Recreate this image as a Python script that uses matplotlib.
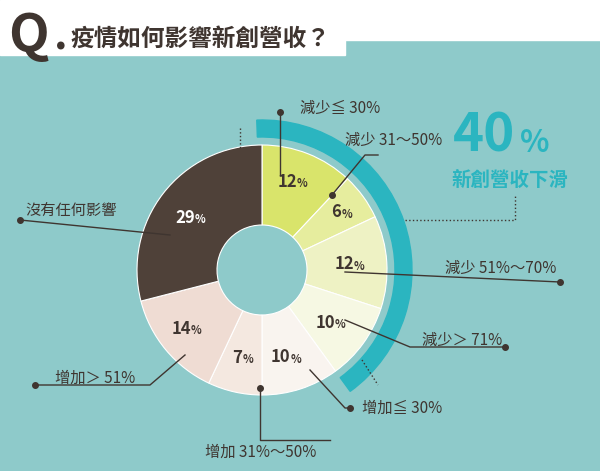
import matplotlib
matplotlib.use("Agg")
import matplotlib.pyplot as plt
from matplotlib.patches import Wedge, Rectangle
import numpy as np

plt.rcParams['font.family'] = ['Noto Sans CJK TC']

categories = ["減少≦ 30%", "減少 31～50%", "減少 51%～70%", "減少＞ 71%",
              "增加≦ 30%", "增加 31%～50%", "增加＞ 51%", "沒有任何影響"]
values = [12, 6, 12, 10, 10, 7, 14, 29]
colors = ["#d9e46b", "#e6ed9e", "#eef2c4", "#f6f8e3", "#f9f4ef", "#f4e8e0", "#efdcd3", "#4f4139"]

W, H = 600, 471
fig = plt.figure(figsize=(6, 4.71), dpi=100)
ax = fig.add_axes([0, 0, 1, 1])
ax.set_xlim(0, W); ax.set_ylim(0, H); ax.axis('off')
Y = lambda py: H - py

ax.add_patch(Rectangle((0, 0), W, H, color="#8ecaca", zorder=0))
ax.add_patch(Rectangle((0, Y(55)), 345, 55, color="white", zorder=1))
ax.add_patch(Rectangle((345, Y(40)), 255, 40, color="white", zorder=1))
ax.text(8, Y(52), "Q", fontsize=38, fontweight='bold', color="#3f3530", va='baseline')
ax.text(54, Y(50), ".", fontsize=30, fontweight='bold', color="#3f3530", va='baseline')
ax.text(70, Y(46), "疫情如何影響新創營收？", fontsize=17, fontweight='bold', color="#3f3530", va='baseline')

cx, cy, r = 262, Y(270), 125
ax.add_patch(Wedge((cx, cy), 150, 90 - 3.6*40, 92, width=17, color="#2bb5c0", zorder=2))
wedges, _ = ax.pie(values, colors=colors, startangle=90, counterclock=False,
                   center=(cx, cy), radius=r, frame=True,
                   wedgeprops=dict(width=r - 45, edgecolor='white', linewidth=0.8))
ax.set_xlim(0, W); ax.set_ylim(0, H); ax.axis('off')

ang = 90
lab_r = [95, 98, 92, 90, 92, 90, 92, 85]
for v, rr, c in zip(values, lab_r, colors):
    mid = np.deg2rad(ang - v*1.8)
    ang -= v*3.6
    tc = "white" if c == "#4f4139" else "#3f3530"
    x, y = cx + rr*np.cos(mid), cy + rr*np.sin(mid)
    ax.text(x, y, f"{v}", fontsize=12, fontweight='bold', color=tc, ha='right', va='center')
    ax.text(x, y - 2, "%", fontsize=8, fontweight='bold', color=tc, ha='left', va='center')

ax.plot([240, 240], [Y(128), Y(150)], ls=':', color="#3f3530", lw=1)
ax.plot([362, 378], [Y(360), Y(385)], ls=':', color="#3f3530", lw=1)
ax.plot([405, 515, 515], [Y(220), Y(220), Y(195)], ls=':', color="#3f3530", lw=1)

ax.text(515, Y(152), "40", fontsize=38, fontweight='bold', color="#2bb5c0", ha='right', va='baseline')
ax.text(520, Y(152), "%", fontsize=22, fontweight='bold', color="#2bb5c0", ha='left', va='baseline')
ax.text(510, Y(186), "新創營收下滑", fontsize=14, fontweight='bold', color="#2bb5c0", ha='center', va='baseline')

def callout(pts, text, tx, ty, ha='left'):
    xs = [p[0] for p in pts]; ys = [Y(p[1]) for p in pts]
    ax.plot(xs, ys, color="#3f3530", lw=1, zorder=5)
    ax.plot(xs[-1], ys[-1], 'o', color="#3f3530", ms=4, zorder=5)
    ax.text(tx, Y(ty), text, fontsize=11, color="#3f3530", ha=ha, va='center')

callout([(280, 175), (280, 112)], categories[0], 300, 108)
callout([(378, 155), (365, 155), (332, 195)], categories[1], 345, 140)
callout([(345, 272), (560, 282)], categories[2], 445, 268)
callout([(345, 320), (410, 347), (505, 347)], categories[3], 422, 340)
callout([(310, 370), (345, 408), (350, 408)], categories[4], 362, 408)
callout([(330, 440), (260, 440), (260, 388)], categories[5], 205, 452)
callout([(185, 355), (150, 385), (35, 385)], categories[6], 55, 378)
callout([(170, 235), (20, 220)], categories[7], 25, 210)

fig.savefig("out.png", dpi=100)
